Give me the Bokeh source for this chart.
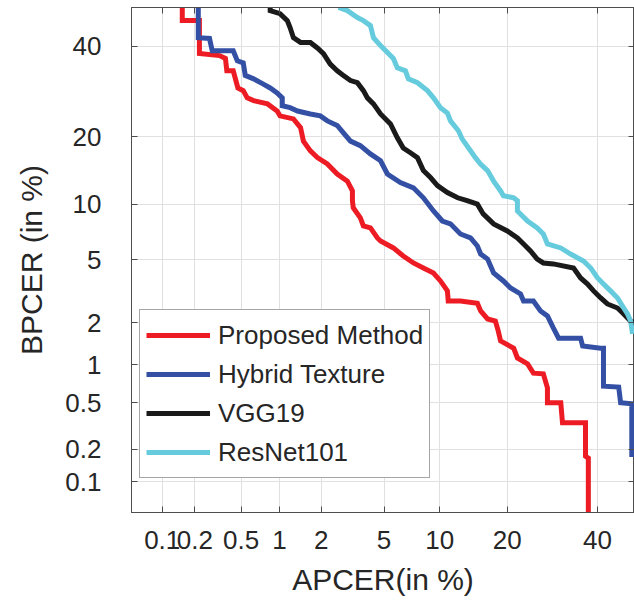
from statistics import NormalDist
from bokeh.plotting import figure
from bokeh.models import FixedTicker, LinearAxis, Range1d, Legend, LegendItem
from bokeh.embed import file_html
from bokeh.resources import INLINE

# ---- data (percent) ----
tick_values = [0.1, 0.2, 0.5, 1, 2, 5, 10, 20, 40]
tick_labels = ["0.1", "0.2", "0.5", "1", "2", "5", "10", "20", "40"]
axis_limits_x = [0.05, 49.5]
axis_limits_y = [0.05, 50.0]

series_names = ["Proposed Method", "Hybrid Texture", "VGG19", "ResNet101"]
series_colors = ["#ED1C24", "#3350A5", "#1A1A1A", "#66CCDD"]

proposed_apcer = [0.154, 0.154, 0.22, 0.22, 0.33, 0.37, 0.38, 0.43, 0.47, 0.52, 0.56, 0.63, 0.81, 0.96,
                  1.01, 1.27, 1.43, 1.50, 1.68, 1.88, 2.20, 2.56, 2.98, 3.21, 3.21, 3.25, 3.60, 3.76,
                  4.15, 4.57, 4.77, 5.66, 6.43, 7.31, 8.25, 9.30, 10.08, 10.9, 11.0, 12.57, 15.0, 15.5,
                  16.6, 17.9, 18.4, 18.8, 21.2, 21.9, 23.9, 25.1, 27.2, 28.1, 28.1, 31.1, 31.5, 37.0,
                  37.0, 37.7, 37.7]
proposed_bpcer = [50.0, 46.6, 46.6, 38.2, 37.7, 37.0, 34.0, 34.0, 30.0, 29.4, 27.8, 27.2, 26.5, 25.0,
                  24.0, 23.4, 21.7, 19.2, 17.5, 16.4, 15.4, 13.9, 12.9, 11.6, 10.4, 9.6, 8.52, 7.74,
                  7.55, 6.66, 6.41, 5.86, 5.27, 4.80, 4.48, 4.18, 3.74, 3.24, 2.79, 2.79, 2.70, 2.40,
                  2.12, 2.05, 1.75, 1.49, 1.32, 1.12, 1.01, 0.86, 0.85, 0.66, 0.50, 0.50, 0.34, 0.34,
                  0.173, 0.166, 0.03]

hybrid_apcer = [0.215, 0.215, 0.27, 0.285, 0.43, 0.465, 0.52, 0.54, 0.63, 0.74, 0.85, 0.96, 1.05, 1.05,
                1.20, 1.36, 1.68, 1.97, 2.20, 2.56, 2.81, 3.12, 3.60, 4.15, 4.77, 5.23, 6.20, 7.31,
                8.25, 9.30, 10.3, 11.28, 12.57, 13.98, 15.0, 15.5, 16.6, 17.6, 19.3, 20.6, 22.5, 23.1,
                25.1, 26.6, 28.1, 29.4, 30.6, 35.8, 36.3, 40.8, 41.5, 41.5, 45.4, 45.9, 48.8, 48.8]
hybrid_bpcer = [50.0, 42.2, 42.0, 38.9, 38.9, 36.4, 35.9, 32.9, 32.1, 31.0, 30.0, 28.9, 27.8, 26.1,
                25.7, 25.0, 24.4, 24.0, 23.0, 22.1, 20.7, 19.2, 18.4, 17.0, 15.9, 13.9, 12.7, 12.0,
                10.75, 9.25, 8.21, 7.93, 7.0, 6.66, 6.01, 5.41, 5.06, 4.18, 3.74, 3.38, 3.10, 2.79,
                2.79, 2.40, 2.22, 1.84, 1.56, 1.56, 1.37, 1.32, 1.32, 0.68, 0.67, 0.50, 0.49, 0.17]

vgg_apcer = [0.85, 0.85, 1.01, 1.145, 1.20, 1.27, 1.43, 1.68, 1.88, 2.07, 2.30, 2.56, 2.81, 3.12,
             3.45, 3.76, 3.98, 4.33, 4.77, 5.45, 5.96, 6.43, 7.04, 7.68, 8.25, 8.98, 9.74, 10.9,
             12.2, 13.5, 15.0, 15.9, 17.6, 20.0, 21.9, 23.1, 24.5, 25.9, 27.2, 29.4, 34.1, 35.8,
             37.5, 39.0, 40.8, 42.5, 45.1, 46.7, 48.5, 49.5]
vgg_bpcer = [50.0, 49.2, 48.4, 46.6, 44.8, 42.2, 41.0, 41.0, 39.6, 38.2, 35.6, 34.0, 32.9, 31.7,
             31.2, 29.4, 27.8, 26.5, 24.4, 22.4, 19.8, 18.0, 17.2, 16.4, 14.4, 13.4, 12.3, 11.4,
             10.75, 10.4, 10.0, 8.93, 7.93, 7.27, 6.66, 6.17, 5.63, 5.06, 4.80, 4.74, 4.48, 3.90,
             3.58, 3.24, 2.92, 2.67, 2.51, 2.29, 2.05, 1.99]

resnet_apcer = [2.61, 2.98, 3.45, 3.76, 4.15, 4.33, 4.77, 5.66, 5.96, 6.61, 6.86, 7.68, 8.66, 9.30,
                10.08, 10.9, 11.28, 12.3, 12.8, 13.7, 14.7, 15.48, 16.6, 17.6, 18.8, 19.3, 21.2, 21.9,
                21.9, 23.9, 25.9, 27.2, 28.1, 31.1, 33.4, 36.5, 38.3, 40.0, 41.5, 43.3, 45.1, 46.7,
                47.7, 48.5, 49.0]
resnet_bpcer = [50.0, 49.2, 47.4, 46.6, 45.3, 42.2, 40.2, 37.0, 34.7, 34.0, 32.1, 31.2, 29.4, 27.8,
                25.7, 24.6, 23.0, 21.1, 19.6, 18.0, 16.4, 15.4, 14.4, 12.9, 11.6, 11.0, 10.75, 10.4,
                9.25, 8.21, 7.55, 7.0, 6.17, 5.86, 5.41, 4.93, 4.48, 3.90, 3.58, 3.24, 2.92, 2.51,
                2.29, 2.05, 1.67]

series_apcer = [proposed_apcer, hybrid_apcer, vgg_apcer, resnet_apcer]
series_bpcer = [proposed_bpcer, hybrid_bpcer, vgg_bpcer, resnet_bpcer]

# ---- normal-deviate (DET) scale ----
_nd = NormalDist()


def probit(vals):
    return [_nd.inv_cdf(v / 100.0) if v < 50 else 0.0 for v in vals]


tick_pos = probit(tick_values)
overrides = {tp: lab for tp, lab in zip(tick_pos, tick_labels)}

FONT = "Liberation Sans"
TXT = "#262626"
AX = "#4D4D4D"

xr = probit(axis_limits_x)
yr = probit(axis_limits_y)

p = figure(width=634, height=600, output_backend="svg", toolbar_location=None,
           x_range=Range1d(xr[0], xr[1]), y_range=Range1d(yr[0], yr[1]),
           min_border_left=131, min_border_right=0, min_border_top=7, min_border_bottom=88)
p.background_fill_color = "white"
p.border_fill_color = "white"
p.outline_line_color = AX
p.outline_line_width = 1
p.outline_line_alpha = 1.0

for ax in (p.xaxis[0], p.yaxis[0]):
    ax.ticker = FixedTicker(ticks=tick_pos)
    ax.major_label_overrides = overrides
    ax.major_label_text_font = FONT
    ax.major_label_text_font_size = "26px"
    ax.major_label_text_color = TXT
    ax.major_tick_in = 6
    ax.major_tick_out = 0
    ax.minor_tick_in = 0
    ax.minor_tick_out = 0
    ax.major_tick_line_color = AX
    ax.axis_line_color = AX
    ax.axis_label_text_font = FONT
    ax.axis_label_text_font_size = "30px"
    ax.axis_label_text_font_style = "normal"
    ax.axis_label_text_color = TXT

p.xaxis.axis_label = "APCER(in %)"
p.yaxis.axis_label = "BPCER (in %)"
p.xaxis.major_label_standoff = 18
p.xaxis.axis_label_standoff = 11
p.yaxis.major_label_standoff = 30
p.yaxis.major_label_text_align = "center"
p.yaxis.axis_label_standoff = 14

for side in ("above", "right"):
    extra = LinearAxis(ticker=FixedTicker(ticks=tick_pos), major_label_text_font_size="0px",
                       major_tick_in=6, major_tick_out=0, minor_tick_in=0, minor_tick_out=0,
                       major_label_standoff=0, major_tick_line_color=AX, axis_line_color=AX)
    extra.major_label_overrides = {tp: "" for tp in tick_pos}
    p.add_layout(extra, side)

p.xgrid.ticker = FixedTicker(ticks=tick_pos)
p.ygrid.ticker = FixedTicker(ticks=tick_pos)
p.xgrid.grid_line_color = "#E0E0E0"
p.ygrid.grid_line_color = "#E0E0E0"

items = []
for name, col, xa, yb in zip(series_names, series_colors, series_apcer, series_bpcer):
    r = p.line(probit(xa), probit(yb), line_color=col, line_width=5, line_join="miter")
    items.append(LegendItem(label=name, renderers=[r]))

legend = Legend(items=items, location=(8, 34), margin=0, padding=6, spacing=1,
                glyph_width=64, glyph_height=38, label_height=38, label_standoff=8,
                label_text_font=FONT, label_text_font_size="26px", label_text_color=TXT,
                border_line_color=AX, border_line_width=1, background_fill_alpha=1.0)
p.add_layout(legend)

open("out.html", "w").write(file_html(p, INLINE))
